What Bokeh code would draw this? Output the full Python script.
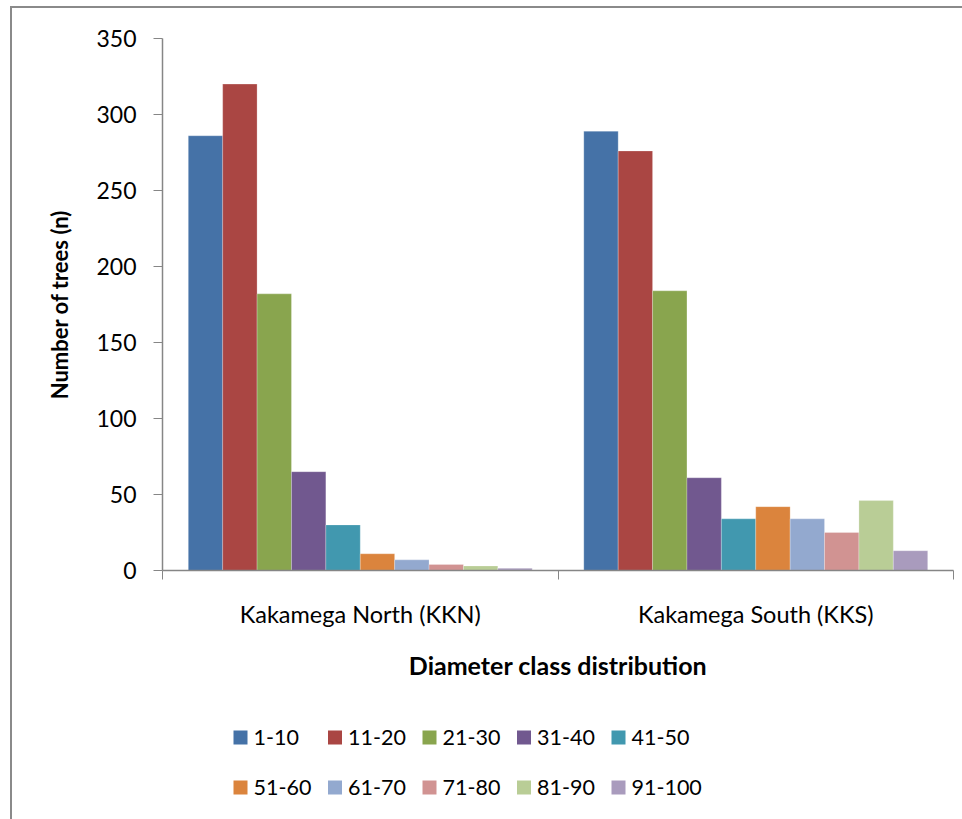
from bokeh.plotting import figure
from bokeh.layouts import column
from bokeh.models import Range1d, FixedTicker
from bokeh.core.properties import value
from bokeh.embed import file_html
from bokeh.resources import INLINE

# Sites (categories) and diameter classes (series)
sites = ["Kakamega North (KKN)", "Kakamega South (KKS)"]
classes = ["1-10", "11-20", "21-30", "31-40", "41-50",
           "51-60", "61-70", "71-80", "81-90", "91-100"]

# Number of trees per diameter class at each site
kkn = [286, 320, 182, 65, 30, 11, 7, 4, 3, 1.5]
kks = [289, 276, 184, 61, 34, 42, 34, 25, 46, 13]

colors = ["#4572A7", "#AA4643", "#89A54E", "#71588F", "#4198AF",
          "#DB843D", "#93A9CF", "#D19392", "#B9CD96", "#A99BBD"]

y_ticks = [0, 50, 100, 150, 200, 250, 300, 350]

FONT = "Lato"
AXIS_GREY = "#868686"

W = 950
H_MAIN = 700
H_LEG = 111
BORDER_L, BORDER_R = 150, 9

p = figure(width=W, height=H_MAIN,
           x_range=Range1d(0, len(sites)), y_range=Range1d(0, 350),
           output_backend="svg", toolbar_location=None,
           min_border_left=BORDER_L, min_border_right=BORDER_R,
           min_border_top=30, min_border_bottom=138)

p.xgrid.visible = False
p.ygrid.visible = False
p.outline_line_color = None
p.background_fill_color = "white"
p.border_fill_color = "white"

# clustered bars: gap between clusters is 150% of a bar width
n = len(classes)
w = 1.0 / (n + 1.5)
for i, cls in enumerate(classes):
    xs = [j + 0.5 + (i - (n - 1) / 2) * w for j in range(len(sites))]
    tops = [kkn[i], kks[i]]
    p.vbar(x=xs, top=tops, bottom=0, width=w,
           fill_color=colors[i], line_color="white", line_alpha=0.3, line_width=0.8)

# x axis: labels at category centres, tick marks at category boundaries
xa = p.xaxis[0]
xa.ticker = FixedTicker(ticks=[j + 0.5 for j in range(len(sites))],
                        minor_ticks=list(range(len(sites) + 1)))
xa.major_label_overrides = {j + 0.5: s for j, s in enumerate(sites)}
xa.major_tick_out = 0
xa.major_tick_in = 0
xa.minor_tick_out = 9
xa.minor_tick_in = 0
xa.minor_tick_line_color = AXIS_GREY
xa.axis_line_color = AXIS_GREY
xa.axis_line_width = 1.5
xa.major_label_text_font = FONT
xa.major_label_text_font_size = "23.5px"
xa.major_label_text_color = "black"
xa.major_label_standoff = 20
xa.axis_label = "Diameter class distribution"
xa.axis_label_text_font = FONT
xa.axis_label_text_font_size = "25px"
xa.axis_label_text_font_style = "bold"
xa.axis_label_text_color = "black"
xa.axis_label_standoff = 19

ya = p.yaxis[0]
ya.ticker = FixedTicker(ticks=y_ticks)
ya.major_tick_out = 9
ya.major_tick_in = 0
ya.minor_tick_out = 0
ya.minor_tick_in = 0
ya.major_tick_line_color = AXIS_GREY
ya.axis_line_color = AXIS_GREY
ya.axis_line_width = 1.5
ya.major_label_text_font = FONT
ya.major_label_text_font_size = "23px"
ya.major_label_text_color = "black"
ya.major_label_standoff = 17
ya.axis_label = "Number of trees (n)"
ya.axis_label_text_font = FONT
ya.axis_label_text_font_size = "22px"
ya.axis_label_text_font_style = "bold"
ya.axis_label_text_color = "black"
ya.axis_label_standoff = 20

# legend strip: two rows of five swatches under the chart.
# Same side borders as the chart, and a range equal to canvas pixels.
leg = figure(width=W, height=H_LEG,
             x_range=Range1d(BORDER_L, W - BORDER_R), y_range=Range1d(H_LEG, 0),
             output_backend="svg", toolbar_location=None,
             x_axis_type=None, y_axis_type=None,
             min_border_left=BORDER_L, min_border_right=BORDER_R,
             min_border_top=0, min_border_bottom=0,
             outline_line_color=None)
leg.xgrid.visible = False
leg.ygrid.visible = False

per_row = 5
col_left, col_step = 221, 94.5
row_mid, row_step = 29, 50
sw = 14
sw_x = [col_left + (k % per_row) * col_step + sw / 2 for k in range(n)]
sw_y = [row_mid + (k // per_row) * row_step for k in range(n)]
leg.rect(x=sw_x, y=sw_y, width=sw, height=sw, fill_color=colors, line_color=None)
leg.text(x=[x + sw / 2 + 6 for x in sw_x], y=sw_y, text=classes,
         text_font=value(FONT), text_font_size="21.5px", text_color="black",
         text_align="left", text_baseline="middle")

layout = column(p, leg, spacing=0,
                styles={"margin-left": "10px", "margin-top": "6px",
                        "border-left": "2px solid #8a8a8a",
                        "border-top": "2px solid #8a8a8a"})

open("out.html", "w").write(file_html(layout, INLINE))
